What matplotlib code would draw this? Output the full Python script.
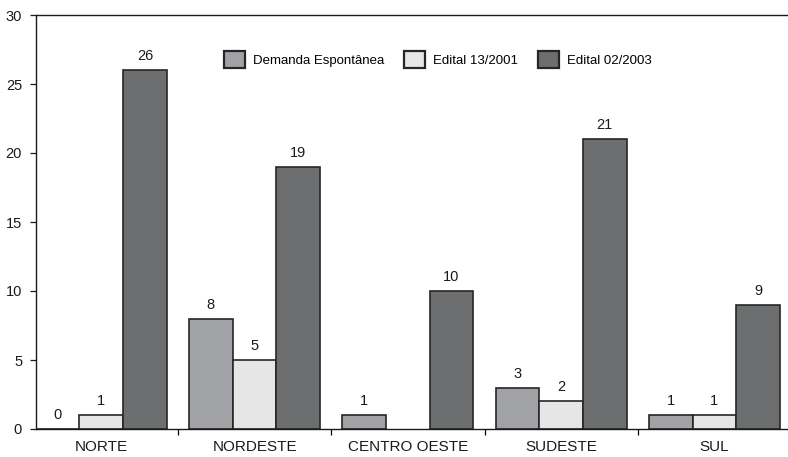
import matplotlib.pyplot as plt
import numpy as np
from matplotlib.patches import Patch

plt.rcParams["font.family"] = ["Liberation Sans", "DejaVu Sans"]

REGIONS = ["NORTE", "NORDESTE", "CENTRO OESTE", "SUDESTE", "SUL"]
SERIES = ["Demanda Espontânea", "Edital 13/2001", "Edital 02/2003"]
DEMANDA = [0, 8, 1, 3, 1]
EDITAL_2001 = [1, 5, None, 2, 1]
EDITAL_2003 = [26, 19, 10, 21, 9]
COLORS = ["#a1a2a5", "#e6e6e6", "#6d6e70"]

fig = plt.figure(figsize=(7.88, 4.57), dpi=100)
ax = fig.add_axes([36 / 788, 28 / 457, 752 / 788, 414 / 457])

x = np.arange(len(REGIONS))
width = 0.285
for i, (vals, color) in enumerate(zip([DEMANDA, EDITAL_2001, EDITAL_2003], COLORS)):
    pos = x + (i - 1) * width
    for p, v in zip(pos, vals):
        if v is None:
            continue
        ax.bar(p, v, width=width, color=color, edgecolor="#262626", linewidth=1.2)
        ax.annotate(str(v), (p, v), xytext=(0, 5), textcoords="offset points",
                    ha="center", va="bottom", fontsize=10.5, color="#1a1a1a")

ax.set_xlim(-0.426, 4.48)
ax.set_ylim(0, 30)
ax.set_yticks(range(0, 31, 5))
ax.tick_params(axis="y", length=4, width=0.9, labelsize=10.5, pad=6, colors="#1a1a1a")
ax.set_xticks(x)
ax.set_xticklabels(REGIONS, fontsize=11)
ax.tick_params(axis="x", length=0, pad=8, colors="#1a1a1a")
ax.set_xticks(x[:-1] + 0.5, minor=True)
ax.tick_params(axis="x", which="minor", length=4, width=0.9, direction="out")

for side in ["left", "bottom", "top"]:
    ax.spines[side].set_linewidth(1.0)
    ax.spines[side].set_color("#1a1a1a")
ax.spines["right"].set_visible(False)

handles = [Patch(facecolor=c, edgecolor="#262626", linewidth=1.6) for c in COLORS]
ax.legend(handles, SERIES, loc="upper left", bbox_to_anchor=(0.25, 0.912), ncol=3,
          frameon=False, fontsize=9.5, handlelength=1.6, handleheight=1.6,
          handletextpad=0.6, columnspacing=1.5, borderpad=0, borderaxespad=0)

fig.savefig("out.png", dpi=100)
